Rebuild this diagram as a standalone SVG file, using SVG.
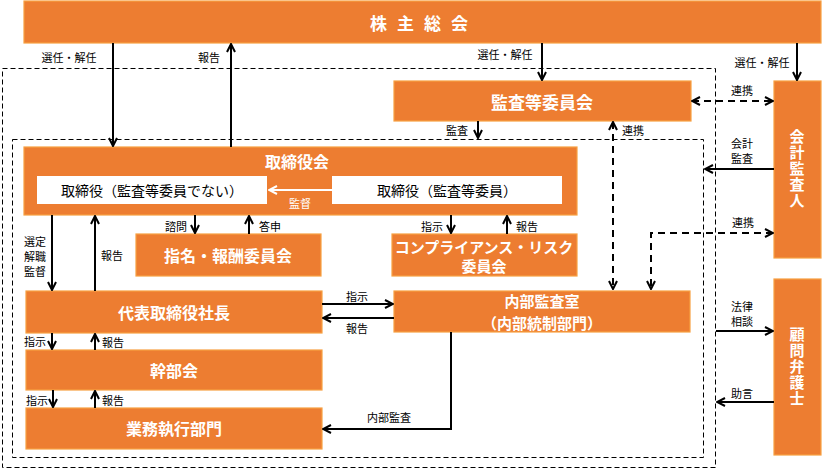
<svg xmlns="http://www.w3.org/2000/svg" width="824" height="470" viewBox="0 0 824 470">
<style>
text{font-family:"Noto Sans CJK JP","Noto Sans",sans-serif;}
.box{fill:#ED7D31;stroke:#F7A042;stroke-width:1.2;}
.wbox{fill:#ffffff;stroke:none;}
.t{fill:#ffffff;font-size:16px;font-weight:bold;text-anchor:middle;dominant-baseline:central;}
.v{fill:#ffffff;font-size:15px;font-weight:bold;text-anchor:middle;writing-mode:vertical-rl;letter-spacing:1px;}
.tb{fill:#000000;font-size:14px;text-anchor:middle;dominant-baseline:central;}
.lbl{fill:#000000;font-size:11px;text-anchor:middle;dominant-baseline:central;}
.frame{fill:none;stroke:#000;stroke-width:1;stroke-dasharray:5 3;}
.ln{fill:none;stroke:#000;stroke-width:2;}
.dl{fill:none;stroke:#000;stroke-width:2;stroke-dasharray:7 5;}
</style>
<defs>
<marker id="ah" viewBox="0 0 10 10" refX="9" refY="5" markerWidth="5" markerHeight="5" orient="auto-start-reverse" markerUnits="strokeWidth">
<path d="M1,1 L9,5 L1,9" fill="none" stroke="#000" stroke-width="2"/>
</marker>
<marker id="ahw" viewBox="0 0 10 10" refX="9" refY="5" markerWidth="5" markerHeight="5" orient="auto-start-reverse" markerUnits="strokeWidth">
<path d="M1,1 L9,5 L1,9" fill="none" stroke="#fff" stroke-width="2"/>
</marker>
</defs>
<rect width="824" height="470" fill="#ffffff"/>
<g id="frames">
<rect class="frame" x="2.5" y="68.5" width="713" height="399"/>
<rect class="frame" x="12.5" y="139.5" width="691" height="318"/>
</g>
<g id="kabunushi">
<rect class="box" x="24" y="1" width="797" height="42"/>
<text class="t" x="424" y="22" style="font-size:17px;letter-spacing:10px">株主総会</text>
</g>
<g id="kansa-iinkai">
<rect class="box" x="394" y="81" width="297" height="40"/>
<text class="t" x="542" y="101" style="font-size:17px">監査等委員会</text>
</g>
<g id="kaikei">
<rect class="box" x="774" y="81" width="47" height="177"/>
<text class="v" x="797" y="169">会計監査人</text>
</g>
<g id="bengoshi">
<rect class="box" x="774" y="279" width="47" height="176"/>
<text class="v" x="797" y="367">顧問弁護士</text>
</g>
<g id="torishimariyakukai">
<rect class="box" x="24" y="147" width="553" height="68"/>
<text class="t" x="297" y="161">取締役会</text>
<rect class="wbox" x="37" y="176" width="230" height="28"/>
<text class="tb" x="152" y="190">取締役（監査等委員でない）</text>
<rect class="wbox" x="332" y="176" width="230" height="28"/>
<text class="tb" x="447" y="190">取締役（監査等委員）</text>
<line x1="332" y1="190" x2="269" y2="190" stroke="#fff" stroke-width="2" marker-end="url(#ahw)"/>
<text x="300" y="203" fill="#fff" font-size="11" text-anchor="middle" dominant-baseline="central">監督</text>
</g>
<g id="shimei">
<rect class="box" x="136" y="234" width="185" height="42"/>
<text class="t" x="228" y="255">指名・報酬委員会</text>
</g>
<g id="compliance">
<rect class="box" x="392" y="234" width="185" height="42"/>
<text class="t" style="font-size:15px"><tspan x="484" y="246">コンプライアンス・リスク</tspan><tspan x="484" y="265">委員会</tspan></text>
</g>
<g id="shacho">
<rect class="box" x="26" y="291" width="296" height="42"/>
<text class="t" x="174" y="312">代表取締役社長</text>
</g>
<g id="naibu">
<rect class="box" x="394" y="291" width="296" height="41"/>
<text class="t" style="font-size:15px"><tspan x="542" y="300">内部監査室</tspan><tspan x="542" y="322">（内部統制部門）</tspan></text>
</g>
<g id="kanbukai">
<rect class="box" x="26" y="350" width="296" height="40"/>
<text class="t" x="174" y="370">幹部会</text>
</g>
<g id="gyomu">
<rect class="box" x="26" y="408" width="296" height="41"/>
<text class="t" x="174" y="428">業務執行部門</text>
</g>
<g id="connectors">
<line class="ln" x1="113" y1="43" x2="113" y2="146" marker-end="url(#ah)"/>
<line class="ln" x1="231" y1="147" x2="231" y2="44" marker-end="url(#ah)"/>
<line class="ln" x1="542" y1="43" x2="542" y2="80" marker-end="url(#ah)"/>
<line class="ln" x1="797" y1="43" x2="797" y2="80" marker-end="url(#ah)"/>
<line class="dl" x1="692" y1="101" x2="773" y2="101" marker-start="url(#ah)" marker-end="url(#ah)"/>
<line class="ln" x1="478" y1="121" x2="478" y2="138" marker-end="url(#ah)"/>
<line class="dl" x1="613" y1="122" x2="613" y2="289" marker-start="url(#ah)" marker-end="url(#ah)"/>
<line class="ln" x1="774" y1="169" x2="705" y2="169" marker-end="url(#ah)"/>
<polyline class="dl" points="773,233 651,233 651,289" marker-start="url(#ah)" marker-end="url(#ah)"/>
<line class="ln" x1="52" y1="215" x2="52" y2="290" marker-end="url(#ah)"/>
<line class="ln" x1="95" y1="291" x2="95" y2="216" marker-end="url(#ah)"/>
<line class="ln" x1="195" y1="215" x2="195" y2="233" marker-end="url(#ah)"/>
<line class="ln" x1="249" y1="234" x2="249" y2="216" marker-end="url(#ah)"/>
<line class="ln" x1="451" y1="215" x2="451" y2="233" marker-end="url(#ah)"/>
<line class="ln" x1="507" y1="234" x2="507" y2="216" marker-end="url(#ah)"/>
<line class="ln" x1="322" y1="304" x2="393" y2="304" marker-end="url(#ah)"/>
<line class="ln" x1="394" y1="318" x2="323" y2="318" marker-end="url(#ah)"/>
<line class="ln" x1="52" y1="333" x2="52" y2="349" marker-end="url(#ah)"/>
<line class="ln" x1="95" y1="350" x2="95" y2="334" marker-end="url(#ah)"/>
<line class="ln" x1="53" y1="390" x2="53" y2="407" marker-end="url(#ah)"/>
<line class="ln" x1="95" y1="408" x2="95" y2="391" marker-end="url(#ah)"/>
<polyline class="ln" points="451,332 451,429 323,429" marker-end="url(#ah)"/>
<line class="ln" x1="716" y1="331" x2="773" y2="331" marker-end="url(#ah)"/>
<line class="ln" x1="774" y1="402" x2="717" y2="402" marker-end="url(#ah)"/>
</g>
<g id="labels">
<text class="lbl" x="69" y="57">選任・解任</text>
<text class="lbl" x="209" y="57">報告</text>
<text class="lbl" x="505" y="54">選任・解任</text>
<text class="lbl" x="762" y="62">選任・解任</text>
<text class="lbl" x="742" y="90">連携</text>
<text class="lbl" x="457" y="130">監査</text>
<text class="lbl" x="633" y="130">連携</text>
<text class="lbl"><tspan x="742" y="143">会計</tspan><tspan x="742" y="158">監査</tspan></text>
<text class="lbl" x="743" y="222">連携</text>
<text class="lbl"><tspan x="35" y="241">選定</tspan><tspan x="35" y="256">解職</tspan><tspan x="35" y="271">監督</tspan></text>
<text class="lbl" x="112" y="255">報告</text>
<text class="lbl" x="176" y="226">諮問</text>
<text class="lbl" x="270" y="226">答申</text>
<text class="lbl" x="432" y="226">指示</text>
<text class="lbl" x="527" y="226">報告</text>
<text class="lbl" x="357" y="296">指示</text>
<text class="lbl" x="357" y="328">報告</text>
<text class="lbl" x="35" y="341">指示</text>
<text class="lbl" x="113" y="342">報告</text>
<text class="lbl" x="37" y="400">指示</text>
<text class="lbl" x="113" y="400">報告</text>
<text class="lbl" x="389" y="417">内部監査</text>
<text class="lbl"><tspan x="742" y="306">法律</tspan><tspan x="742" y="321">相談</tspan></text>
<text class="lbl" x="742" y="393">助言</text>
</g>
</svg>
